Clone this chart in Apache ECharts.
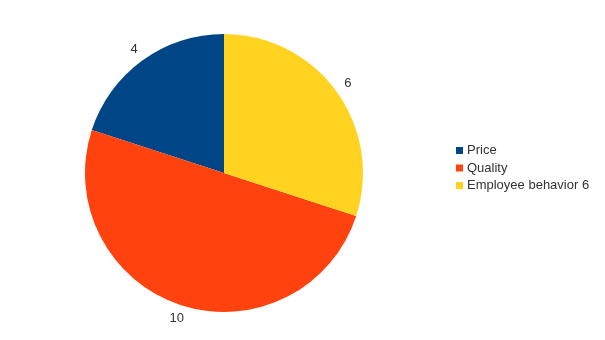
<!DOCTYPE html>
<html>
<head>
<meta charset="utf-8">
<script src="https://cdn.jsdelivr.net/npm/echarts@6/dist/echarts.min.js"></script>
<style>html,body{margin:0;padding:0;background:#fff;}#c{width:605px;height:340px;}</style>
</head>
<body>
<div id="c"></div>
<script>
const categories = ['Price', 'Quality', 'Employee behavior 6'];
const values = [4, 10, 6];
const colors = ['#004586', '#ff420e', '#ffd320'];

const chart = echarts.init(document.getElementById('c'), null, {renderer: 'canvas'});
const data = categories.map((n, i) => ({name: n, value: values[i], itemStyle: {color: colors[i]}}));
chart.setOption({
  animation: false,
  textStyle: {fontFamily: 'Liberation Sans'},
  legend: {
    orient: 'vertical',
    left: 456,
    top: 144,
    padding: 0,
    itemWidth: 7,
    itemHeight: 7,
    itemGap: 4.5,
    icon: 'rect',
    data: categories,
    textStyle: {fontFamily: 'Liberation Sans', fontSize: 13, color: '#333', padding: [0,0,0,-1]}
  },
  series: [
    {
      type: 'pie',
      center: [224, 173],
      radius: [0, 139],
      startAngle: 90,
      clockwise: false,
      data: data,
      label: {show: false},
      labelLine: {show: false},
      emphasis: {disabled: true}
    },
    {
      type: 'pie',
      center: [224, 173],
      radius: [140, 160],
      startAngle: 90,
      clockwise: false,
      silent: true,
      data: categories.map((n, i) => ({name: n, value: values[i]})),
      itemStyle: {color: 'rgba(0,0,0,0)'},
      label: {
        show: true,
        position: 'inside',
        formatter: '{c}',
        fontFamily: 'Liberation Sans',
        fontSize: 13,
        color: '#333'
      },
      labelLine: {show: false},
      emphasis: {disabled: true}
    }
  ]
});
</script>
</body>
</html>
